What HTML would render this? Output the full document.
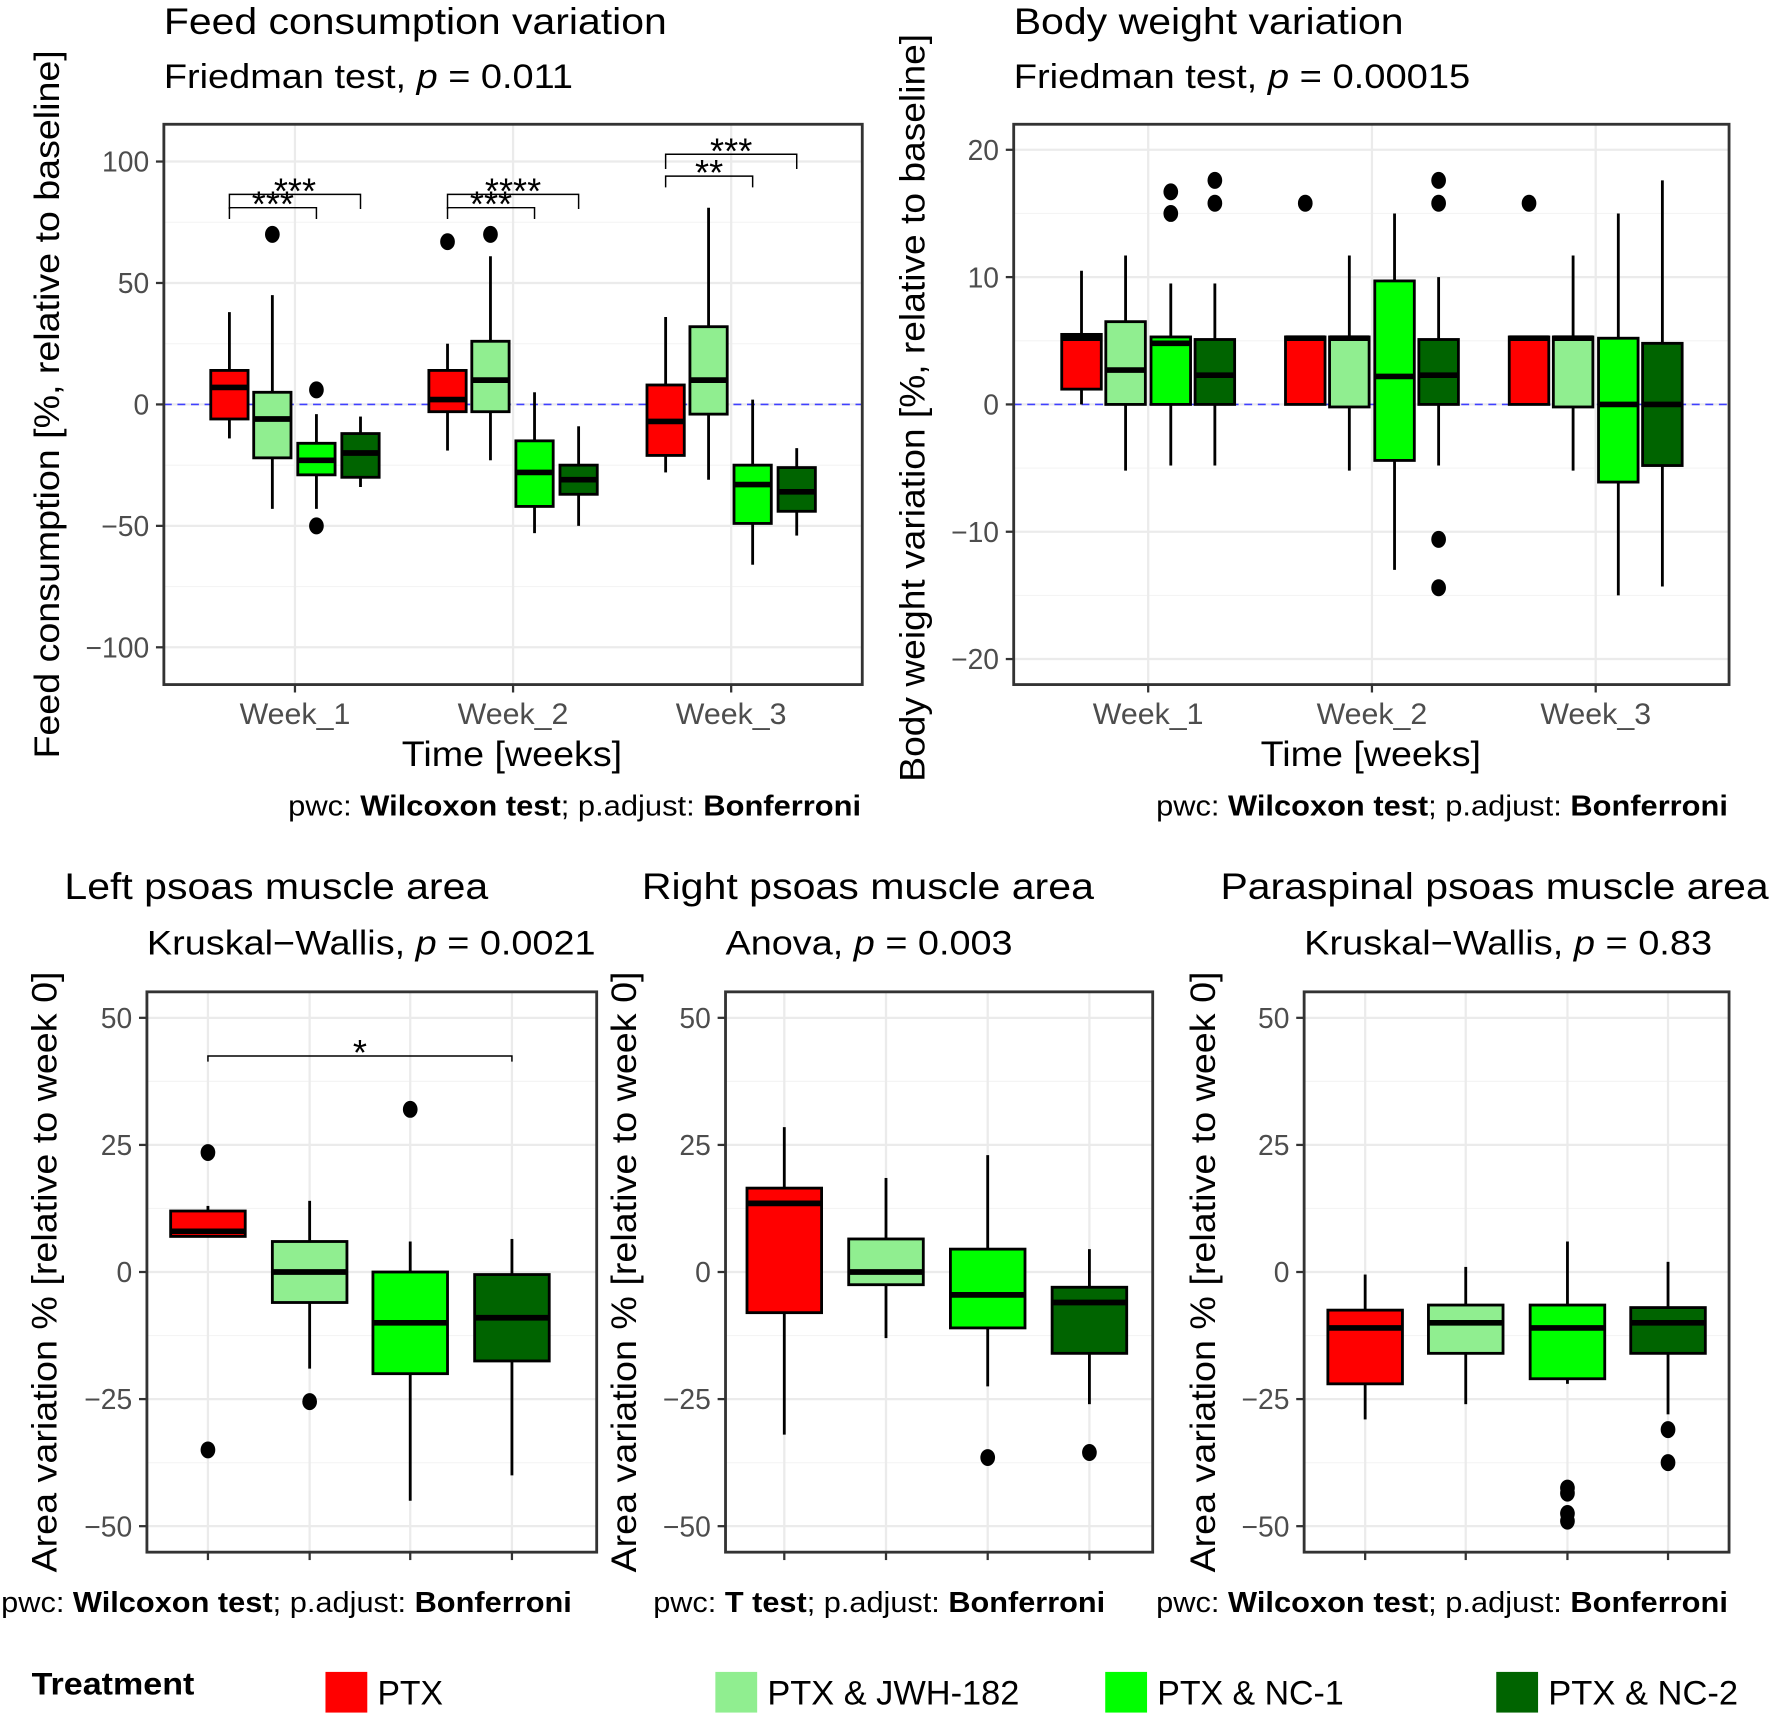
<!DOCTYPE html>
<html><head><meta charset="utf-8">
<style>
html,body{margin:0;padding:0;background:#fff;}
svg{display:block;}
text{font-family:"Liberation Sans",Arial,sans-serif;}
</style></head>
<body>
<svg id="fig" width="1772" height="1725" viewBox="0 0 1568 1527" preserveAspectRatio="none" xmlns="http://www.w3.org/2000/svg">
</svg>
<script>
// ---------- DATA ----------
const treatments = ["PTX","PTX & JWH-182","PTX & NC-1","PTX & NC-2"];
const treatmentColors = ["#ff0000","#90ee90","#00ff00","#006400"];
const weeks = ["Week_1","Week_2","Week_3"];
const feedTicks = [-100,-50,0,50,100];
const bodyTicks = [-20,-10,0,10,20];
const areaTicks = [-50,-25,0,25,50];
// [lo, q1, median, q3, hi] per week (outer) x treatment (inner)
const feedStats = [
 [[-14,-6,7,14,38],[-43,-22,-6,5,45],[-43,-29,-23,-16,-4],[-34,-30,-20,-12,-5]],
 [[-19,-3,2,14,25],[-23,-3,10,26,61],[-53,-42,-28,-15,5],[-50,-37,-31,-25,-9]],
 [[-28,-21,-7,8,36],[-31,-4,10,32,81],[-66,-49,-33,-25,2],[-54,-44,-36,-26,-18]]
];
const feedOutliers = [
 [[],[70],[6,-50],[]],
 [[67],[70],[],[]],
 [[],[],[],[]]
];
const bodyStats = [
 [[0,1.2,5.2,5.5,10.5],[-5.2,0,2.7,6.5,11.7],[-4.8,0,4.8,5.3,9.5],[-4.8,0,2.3,5.1,9.5]],
 [[0,0,5.2,5.3,5.4],[-5.2,-0.2,5.2,5.3,11.7],[-13,-4.4,2.2,9.7,15],[-4.8,0,2.3,5.1,10]],
 [[0,0,5.2,5.3,5.4],[-5.2,-0.2,5.2,5.3,11.7],[-15,-6.1,0,5.2,15],[-14.3,-4.8,0,4.8,17.6]]
];
const bodyOutliers = [
 [[],[],[15,16.7],[15.8,17.6]],
 [[15.8],[],[],[15.8,17.6,-10.6,-14.4]],
 [[15.8],[],[],[]]
];
const leftStats = [[7,7,8,12,13],[-19,-6,0,6,14],[-45,-20,-10,0,6],[-40,-17.5,-9,-0.5,6.5]];
const leftOutliers = [[23.5,-35],[-25.5],[32],[]];
const rightStats = [[-32,-8,13.5,16.5,28.5],[-13,-2.5,0,6.5,18.5],[-22.5,-11,-4.5,4.5,23],[-26,-16,-6,-3,4.5]];
const rightOutliers = [[],[],[-36.5],[-35.5]];
const paraStats = [[-29,-22,-11,-7.5,-0.5],[-26,-16,-10,-6.5,1],[-22,-21,-11,-6.5,6],[-28,-16,-10,-7,2]];
const paraOutliers = [[],[],[-42.5,-43.5,-47.5,-49],[-31,-37.5]];
// brackets: [week index, from treatment, to treatment, value, label]
const feedBrackets = [[0,0,2,81,"***"],[0,0,3,86.5,"***"],[1,0,2,81,"***"],[1,0,3,86.5,"****"],[2,0,2,94,"**"],[2,0,3,103,"***"]];
const leftBrackets = [[0,0,3,42.5,"*"]];

// ---------- DRAW ----------
const NS="http://www.w3.org/2000/svg";
const svg=document.getElementById('fig');
function mk(tag,attrs,parent,txt){const e=document.createElementNS(NS,tag);for(const k in attrs)e.setAttribute(k,attrs[k]);if(txt!==undefined)e.textContent=txt;(parent||svg).appendChild(e);return e;}

function panel(o){
  const g=mk('g',{});
  
  
  const ys=v=>o.y0-(v)*o.ppu;
  const minorStep=(o.ticks[1]-o.ticks[0])/2;
  for(let v=o.ticks[0]-minorStep;v<=o.ticks[o.ticks.length-1]+minorStep;v+=minorStep){
    const y=ys(v); if(y<o.top||y>o.bottom)continue;
    const major=o.ticks.includes(v);
    const l=mk('line',{x1:o.left,x2:o.right,y1:y,y2:y,stroke:major?'#ebebeb':'#f4f4f4','stroke-width':major?2:1},g);
    
    
  }
  o.cats.forEach(cx=>{
    const l=mk('line',{x1:cx,x2:cx,y1:o.top,y2:o.bottom,stroke:'#ebebeb','stroke-width':2},g);
    
    
    const t=mk('line',{x1:cx,x2:cx,y1:o.bottom,y2:o.bottom+7,stroke:'#333','stroke-width':2},g);
    
    
  });
  if(o.zeroLine){
    const z=mk('line',{x1:o.left,x2:o.right,y1:ys(0),y2:ys(0),stroke:'#4040ff','stroke-width':1.5,'stroke-dasharray':'7,5'},g);
    
    
  }
  o.groups.forEach((grp,i)=>{
    const [lo,q1,md,q3,hi]=grp.stats;
    const x=grp.x, w=o.bw;
    const bg=mk('g',{},g);
    
    
    mk('line',{x1:x,x2:x,y1:ys(hi),y2:ys(q3),stroke:'#000','stroke-width':2.5},bg);
    mk('line',{x1:x,x2:x,y1:ys(q1),y2:ys(lo),stroke:'#000','stroke-width':2.5},bg);
    mk('rect',{x:x-w/2,y:ys(q3),width:w,height:Math.max(0.5,ys(q1)-ys(q3)),fill:grp.color,stroke:'#000','stroke-width':2.5},bg);
    mk('line',{x1:x-w/2,x2:x+w/2,y1:ys(md),y2:ys(md),stroke:'#000','stroke-width':5},bg);
    grp.out.forEach(v=>{
      const c=mk('ellipse',{cx:x,cy:ys(v),rx:6.5,ry:7.5,fill:'#000'},bg);
      
      
    });
  });
  (o.brackets||[]).forEach(b=>{
    const x1=b.x1,x2=b.x2,y=ys(b.v),drop=b.drop;
    const bg=mk('g',{},g);
    
    
    mk('polyline',{points:`${x1},${y+drop} ${x1},${y} ${x2},${y} ${x2},${y+drop}`,fill:'none',stroke:'#000','stroke-width':1.3},bg);
    mk('text',{x:(x1+x2)/2,y:y+8,'text-anchor':'middle','font-size':32,fill:'#000'},bg,b.label);
  });
  const fr=mk('rect',{x:o.left,y:o.top,width:o.right-o.left,height:o.bottom-o.top,fill:'none',stroke:'#333','stroke-width':2.5},g);
  
  
  o.ticks.forEach(v=>{
    const y=ys(v);
    mk('line',{x1:o.left-7,x2:o.left,y1:y,y2:y,stroke:'#333','stroke-width':2},g);
    const t=mk('text',{x:o.left-13,y:y+9,'text-anchor':'end','font-size':25,fill:'#4d4d4d'},g,String(v).replace('-','\u2212'));
    
    
  });
  (o.xlabels||[]).forEach((s,i)=>{
    const t=mk('text',{x:o.cats[i],y:o.bottom+35,'text-anchor':'middle','font-size':26,fill:'#4d4d4d',textLength:98,lengthAdjust:'spacingAndGlyphs'},g,s);
    
    
  });
  const yt=mk('text',{x:0,y:0,'text-anchor':'middle','font-size':31,fill:'#000',textLength:o.ytlen,lengthAdjust:'spacingAndGlyphs',transform:`translate(${o.ytx},${o.ytc}) rotate(-90)`},g,o.ytitle);
  
  
  return g;
}

function txt(x,y,s,size,anchor,name,len,weight){
  const a={x:x,y:y,'font-size':size,'text-anchor':anchor||'start',fill:'#000','font-weight':weight||'normal'};
  if(len){a.textLength=len;a.lengthAdjust='spacingAndGlyphs';}
  const t=mk('text',a);
  t.innerHTML=s;
  
  
  return t;
}

(function(){
  const weekX=[261,454,647], off=[-58,-20,19,58];
  const groups=[];
  feedStats.forEach((wk,i)=>wk.forEach((s,j)=>groups.push({x:weekX[i]+off[j],stats:s,out:feedOutliers[i][j],color:treatmentColors[j],label:weeks[i]+'-'+treatments[j]})));
  const brackets=feedBrackets.map(b=>({x1:weekX[b[0]]+off[b[1]],x2:weekX[b[0]]+off[b[2]],v:b[3],label:b[4],drop:(b[2]===2?10:13)}));
  panel({name:'feed-consumption-panel',left:145,right:763,top:110,bottom:606,y0:358,ppu:2.15,ticks:feedTicks,cats:weekX,xlabels:weeks,bw:33,groups:groups,zeroLine:true,brackets:brackets,ytx:52,ytc:358,ytlen:627,ytitle:'Feed consumption [%, relative to baseline]'});
})();
txt(145,30,'Feed consumption variation',33,'start','feed-title',445);
txt(145,78,'Friedman test, <tspan font-style="italic">p</tspan> = 0.011',30,'start','feed-subtitle',362);
txt(453,678,'Time [weeks]',31,'middle','feed-x-axis-title',195);
txt(762,722,'pwc: <tspan font-weight="bold">Wilcoxon test</tspan>; p.adjust: <tspan font-weight="bold">Bonferroni</tspan>',25,'end','feed-caption',507);

(function(){
  const weekX=[1016,1214,1412], off=[-59,-20,20,59];
  const groups=[];
  bodyStats.forEach((wk,i)=>wk.forEach((s,j)=>groups.push({x:weekX[i]+off[j],stats:s,out:bodyOutliers[i][j],color:treatmentColors[j],label:weeks[i]+'-'+treatments[j]})));
  panel({name:'body-weight-panel',left:897,right:1530,top:110,bottom:606,y0:358,ppu:11.27,ticks:bodyTicks,cats:weekX,xlabels:weeks,bw:35,groups:groups,zeroLine:true,ytx:818,ytc:361,ytlen:662,ytitle:'Body weight variation [%, relative to baseline]'});
})();
txt(897,30,'Body weight variation',33,'start','body-title',345);
txt(897,78,'Friedman test, <tspan font-style="italic">p</tspan> = 0.00015',30,'start','body-subtitle',404);
txt(1213,678,'Time [weeks]',31,'middle','body-x-axis-title',195);
txt(1529,722,'pwc: <tspan font-weight="bold">Wilcoxon test</tspan>; p.adjust: <tspan font-weight="bold">Bonferroni</tspan>',25,'end','body-caption',506);

function areaPanel(name,left,right,cats,stats,outs,brk,ytx){
  const groups=stats.map((s,j)=>({x:cats[j],stats:s,out:outs[j],color:treatmentColors[j],label:treatments[j]}));
  const brackets=(brk||[]).map(b=>({x1:cats[b[1]],x2:cats[b[2]],v:b[3],label:b[4],drop:5}));
  panel({name:name,left:left,right:right,top:878,bottom:1374,y0:1126,ppu:4.5,ticks:areaTicks,cats:cats,bw:66,groups:groups,brackets:brackets,ytx:ytx,ytc:1126,ytlen:532,ytitle:'Area variation % [relative to week 0]'});
}
areaPanel('left-psoas-panel',130,528,[184,274,363,453],leftStats,leftOutliers,leftBrackets,50);
areaPanel('right-psoas-panel',642,1020,[694,784,874,964],rightStats,rightOutliers,[],563);
areaPanel('paraspinal-panel',1154,1530,[1208,1297,1387,1476],paraStats,paraOutliers,[],1075);
txt(57,796,'Left psoas muscle area',33,'start','left-psoas-title',375);
txt(130,845,'Kruskal\u2212Wallis, <tspan font-style="italic">p</tspan> = 0.0021',30,'start','left-psoas-subtitle',397);
txt(568,796,'Right psoas muscle area',33,'start','right-psoas-title',400);
txt(642,845,'Anova, <tspan font-style="italic">p</tspan> = 0.003',30,'start','right-psoas-subtitle',254);
txt(1080,796,'Paraspinal psoas muscle area',33,'start','paraspinal-title',485);
txt(1154,845,'Kruskal\u2212Wallis, <tspan font-style="italic">p</tspan> = 0.83',30,'start','paraspinal-subtitle',361);
txt(506,1427,'pwc: <tspan font-weight="bold">Wilcoxon test</tspan>; p.adjust: <tspan font-weight="bold">Bonferroni</tspan>',25,'end','left-psoas-caption',505);
txt(978,1427,'pwc: <tspan font-weight="bold">T test</tspan>; p.adjust: <tspan font-weight="bold">Bonferroni</tspan>',25,'end','right-psoas-caption',400);
txt(1529,1427,'pwc: <tspan font-weight="bold">Wilcoxon test</tspan>; p.adjust: <tspan font-weight="bold">Bonferroni</tspan>',25,'end','paraspinal-caption',506);

txt(28,1500,'Treatment',28,'start','legend-title',144,'bold');
const legX=[288,633,978,1324];
const legLen=[58,223,165,168];
treatments.forEach((t,i)=>{
  const g=mk('g',{});
  
  
  mk('rect',{x:legX[i],y:1480,width:37,height:36,fill:treatmentColors[i]},g);
  mk('text',{x:legX[i]+46,y:1509,'font-size':30,fill:'#000',textLength:legLen[i],lengthAdjust:'spacingAndGlyphs'},g,t);
});
</script>
</body></html>
